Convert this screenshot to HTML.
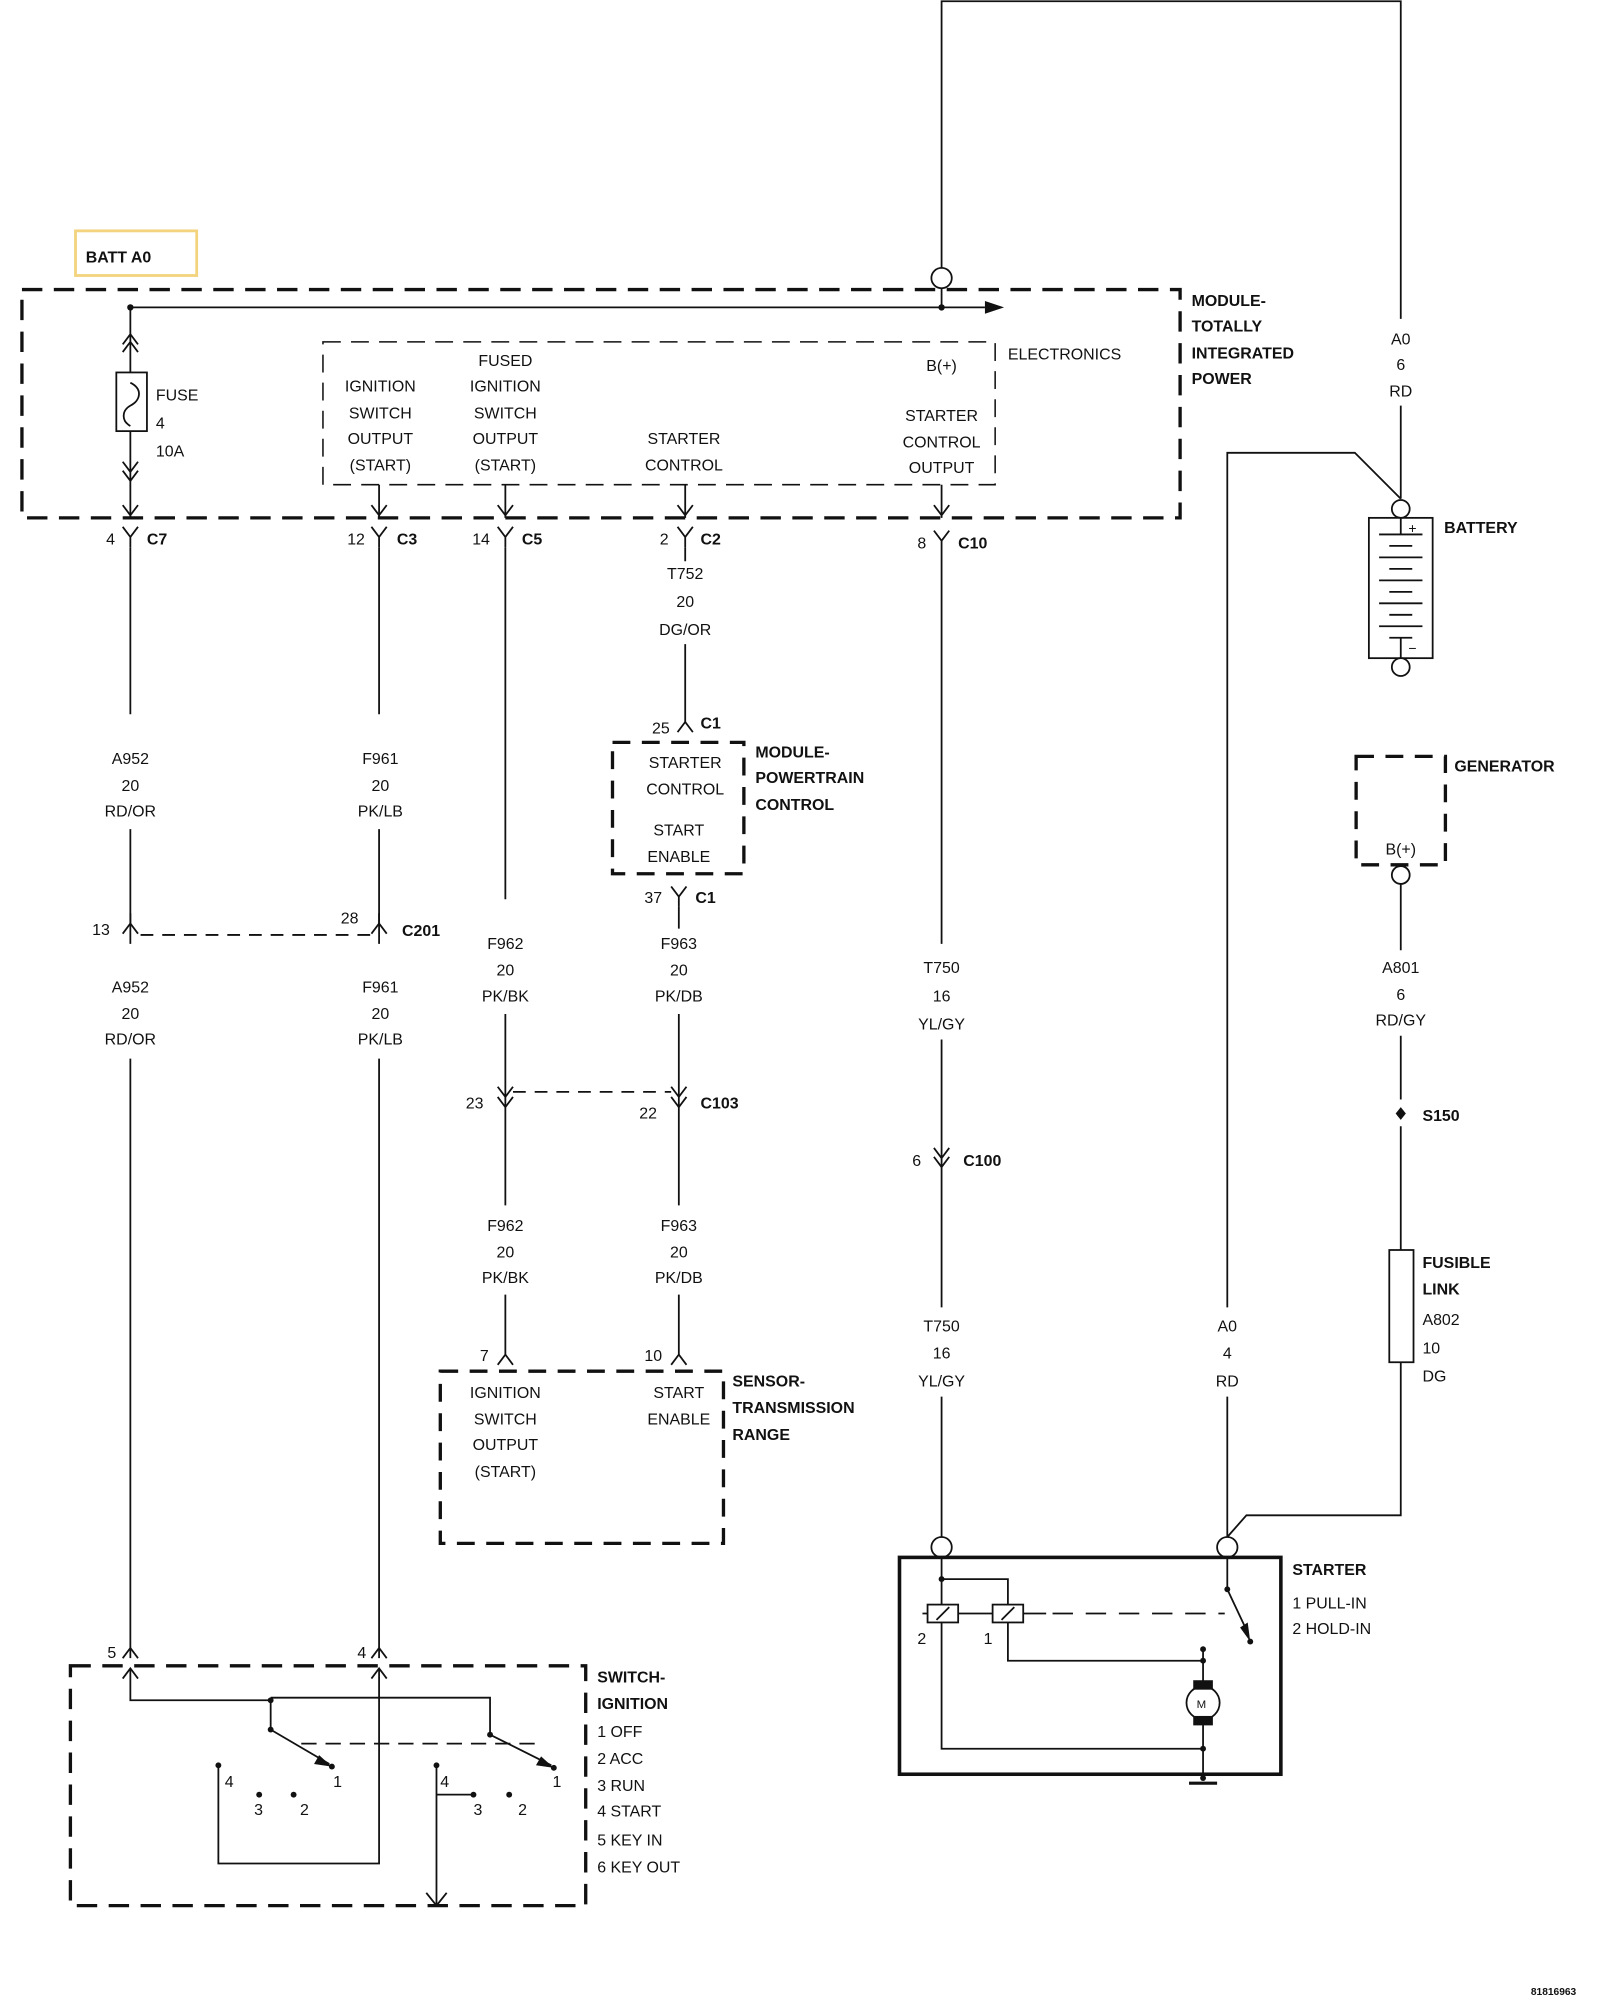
<!DOCTYPE html>
<html><head><meta charset="utf-8"><style>
html,body{margin:0;padding:0;background:#fff;width:1600px;height:2000px;overflow:hidden}
svg{display:block}
text{font-family:"Liberation Sans",Arial,sans-serif;font-size:12.5px;fill:#111}
.b{font-weight:bold;font-size:12.5px}
.c{text-anchor:middle}
</style></head><body>
<svg width="1600" height="2000" viewBox="0 0 1254 1568" xmlns="http://www.w3.org/2000/svg">
<defs>
<path id="yc" d="M-6,-8 L0,0 L6,-8 M0,0 V8" fill="none" stroke="#111" stroke-width="1.4"/>
<path id="ad" d="M-6,-8 L0,0 L6,-8" fill="none" stroke="#111" stroke-width="1.4"/>
<path id="au" d="M-6,8 L0,0 L6,8" fill="none" stroke="#111" stroke-width="1.4"/>
<path id="ru" d="M-6,8 L0,0 L6,8 M0,0 V-8" fill="none" stroke="#111" stroke-width="1.4"/>
</defs>
<g fill="none" stroke="#111" stroke-width="1.4">
<path d="M738,210 V1 H1098 V250 M1098,318 V391"/>
<circle cx="738" cy="218" r="8" fill="#fff"/>
<path d="M738,226 V241"/>
<rect x="17" y="227" width="908" height="179" stroke-width="2.6" stroke-dasharray="16 9"/>
<path d="M102,241 H772"/>
<rect x="253" y="268" width="527" height="112" stroke-width="1.2" stroke-dasharray="14 8"/>
<path d="M102,241 V292 M102,338 V406"/>
<rect x="91" y="292" width="24" height="46"/>
<path d="M102,300 C112,305 110,314 102,318 C95,322 95,330 102,334"/>
<use href="#au" x="102" y="262"/><use href="#au" x="102" y="268"/>
<use href="#ad" x="102" y="370"/><use href="#ad" x="102" y="377"/>
<use href="#ad" x="102" y="404"/>
<path d="M297,380 V406 M396,380 V406 M537,380 V406 M738,380 V406"/>
<use href="#ad" x="297" y="404"/><use href="#ad" x="396" y="404"/><use href="#ad" x="537" y="404"/><use href="#ad" x="738" y="404"/>
<use href="#yc" x="102" y="421"/><use href="#yc" x="297" y="421"/><use href="#yc" x="396" y="421"/><use href="#yc" x="537" y="421"/><use href="#yc" x="738" y="424"/>
<path d="M102,429 V560 M102,650 V740 M102,830 V1300"/>
<use href="#ru" x="102" y="724"/>
<path d="M297,429 V560 M297,650 V740 M297,830 V1300"/>
<use href="#ru" x="297" y="724"/>
<path d="M110,733 H290" stroke-dasharray="10 7"/>
<path d="M396,429 V705 M396,795 V945 M396,1015 V1062"/>
<use href="#ad" x="396" y="860"/><use href="#ad" x="396" y="868"/>
<path d="M402,856 H526" stroke-dasharray="10 7"/>
<path d="M537,429 V440 M537,505 V566"/>
<use href="#au" x="537" y="566"/>
<rect x="480" y="582" width="103" height="103" stroke-width="2.6" stroke-dasharray="14 9"/>
<use href="#yc" x="532" y="703"/>
<path d="M532,711 V728 M532,795 V945 M532,1015 V1062"/>
<use href="#ad" x="532" y="860"/><use href="#ad" x="532" y="868"/>
<use href="#au" x="396" y="1062"/><use href="#au" x="532" y="1062"/>
<rect x="345" y="1075" width="222" height="135" stroke-width="2.6" stroke-dasharray="14 9"/>
<path d="M738,432 V740 M738,815 V1025 M738,1095 V1205"/>
<use href="#ad" x="738" y="908"/><use href="#ad" x="738" y="915"/>
<circle cx="738" cy="1213" r="8" fill="#fff"/>
<path d="M962,1025 V355 H1062 L1098,391 M962,1095 V1205 M962,1205 L977,1188 H1098 V1068"/>
<circle cx="962" cy="1213" r="8" fill="#fff"/>
<circle cx="1098" cy="399" r="7" fill="#fff"/>
<rect x="1073" y="406" width="50" height="110"/>
<path d="M1098,406 V419 M1081,419 H1115 M1089,428 H1107 M1081,437 H1115 M1089,446 H1107 M1081,455 H1115 M1089,464 H1107 M1081,473 H1115 M1089,482 H1107 M1081,491 H1115 M1089,500 H1107 M1098,500 V516"/>
<circle cx="1098" cy="523" r="7" fill="#fff"/>
<rect x="1063" y="593" width="70" height="85" stroke-width="2.6" stroke-dasharray="14 9"/>
<circle cx="1098" cy="686" r="7" fill="#fff"/>
<path d="M1098,693 V745 M1098,812 V862 M1098,883 V980"/>
<rect x="1089" y="980" width="19" height="88"/>
<rect x="705" y="1221" width="299" height="170" stroke-width="2.8"/>
<path d="M738,1221 V1371 H943 M738,1238 H790 V1258 M790,1272 V1302 H943 M723,1265 H780 M801,1265 H820"/>
<path d="M825,1265 H960" stroke-dasharray="16 10"/>
<rect x="727" y="1258" width="24" height="14" fill="#fff"/>
<rect x="778" y="1258" width="24" height="14" fill="#fff"/>
<path d="M734,1270 L744,1260 M785,1270 L795,1260"/>
<path d="M962,1221 V1246 L978,1280 M943,1293 V1320 M943,1350 V1394"/>
<circle cx="943" cy="1335" r="13"/>
<rect x="936" y="1318" width="14" height="6" fill="#111"/>
<rect x="936" y="1346" width="14" height="6" fill="#111"/>
<path d="M932,1398 H954" stroke-width="2.5"/>
<rect x="55" y="1306" width="404" height="188" stroke-width="2.6" stroke-dasharray="16 9"/>
<use href="#au" x="102" y="1292"/><use href="#au" x="297" y="1292"/>
<use href="#au" x="102" y="1308"/><use href="#au" x="297" y="1308"/>
<path d="M102,1308 V1333 H212 V1356 M212,1331 H384 V1360 M297,1308 V1461 H171 V1384"/>
<path d="M212,1356 L258,1383 M384,1360 L432,1384"/>
<path d="M236,1367 H420" stroke-dasharray="12 7"/>
<path d="M342,1384 V1494 M342,1407 H371"/>
<path d="M334,1484 L342,1494 L350,1484"/>
</g>
<g fill="#111">
<circle cx="102" cy="241" r="2.5"/><circle cx="738" cy="241" r="2.5"/>
<path d="M772,236 L787,241 L772,246 Z"/>
<path d="M1098,868 l4,5 -4,5 -4,-5z"/>
<circle cx="738" cy="1238" r="2.3"/><circle cx="962" cy="1246" r="2.3"/><circle cx="980" cy="1287" r="2.3"/>
<path d="M972,1276 L980,1287 L978,1272 Z"/>
<circle cx="943" cy="1293" r="2.3"/><circle cx="943" cy="1302" r="2.3"/><circle cx="943" cy="1371" r="2.3"/><circle cx="943" cy="1394" r="2.3"/>
<circle cx="212" cy="1333" r="2.3"/><circle cx="212" cy="1356" r="2.3"/><circle cx="384" cy="1360" r="2.3"/>
<path d="M250,1376 L260,1385 L246,1383 Z"/><path d="M424,1377 L434,1386 L420,1384 Z"/>
<circle cx="260" cy="1385" r="2.3"/><circle cx="434" cy="1386" r="2.3"/>
<circle cx="171" cy="1384" r="2.3"/><circle cx="203" cy="1407" r="2.3"/><circle cx="230" cy="1407" r="2.3"/>
<circle cx="342" cy="1384" r="2.3"/><circle cx="371" cy="1407" r="2.3"/><circle cx="399" cy="1407" r="2.3"/>
</g>
<rect x="59" y="181" width="95" height="35" fill="none" stroke="#f3d37d" stroke-width="2.2"/>
<text x="67" y="206" class="b">BATT A0</text>
<text x="934" y="240" class="b">MODULE-</text><text x="934" y="260" class="b">TOTALLY</text><text x="934" y="281" class="b">INTEGRATED</text><text x="934" y="301" class="b">POWER</text>
<text x="790" y="282">ELECTRONICS</text>
<text x="738" y="291" class="c">B(+)</text>
<text x="122" y="314">FUSE</text><text x="122" y="336">4</text><text x="122" y="358">10A</text>
<text class="c" x="298" y="307">IGNITION</text><text class="c" x="298" y="328">SWITCH</text><text class="c" x="298" y="348">OUTPUT</text><text class="c" x="298" y="369">(START)</text>
<text class="c" x="396" y="287">FUSED</text><text class="c" x="396" y="307">IGNITION</text><text class="c" x="396" y="328">SWITCH</text><text class="c" x="396" y="348">OUTPUT</text><text class="c" x="396" y="369">(START)</text>
<text class="c" x="536" y="348">STARTER</text><text class="c" x="536" y="369">CONTROL</text>
<text class="c" x="738" y="330">STARTER</text><text class="c" x="738" y="351">CONTROL</text><text class="c" x="738" y="371">OUTPUT</text>
<text x="83" y="427">4</text><text x="115" y="427" class="b">C7</text>
<text x="272" y="427">12</text><text x="311" y="427" class="b">C3</text>
<text x="370" y="427">14</text><text x="409" y="427" class="b">C5</text>
<text x="517" y="427">2</text><text x="549" y="427" class="b">C2</text>
<text x="719" y="430">8</text><text x="751" y="430" class="b">C10</text>
<text class="c" x="537" y="454">T752</text><text class="c" x="537" y="476">20</text><text class="c" x="537" y="498">DG/OR</text>
<text x="511" y="575">25</text><text x="549" y="571" class="b">C1</text>
<text class="c" x="537" y="602">STARTER</text><text class="c" x="537" y="623">CONTROL</text><text class="c" x="532" y="655">START</text><text class="c" x="532" y="676">ENABLE</text>
<text x="592" y="594" class="b">MODULE-</text><text x="592" y="614" class="b">POWERTRAIN</text><text x="592" y="635" class="b">CONTROL</text>
<text x="505" y="708">37</text><text x="545" y="708" class="b">C1</text>
<text class="c" x="102" y="599">A952</text><text class="c" x="102" y="620">20</text><text class="c" x="102" y="640">RD/OR</text>
<text class="c" x="298" y="599">F961</text><text class="c" x="298" y="620">20</text><text class="c" x="298" y="640">PK/LB</text>
<text x="72" y="733">13</text><text x="267" y="724">28</text><text x="315" y="734" class="b">C201</text>
<text class="c" x="102" y="778">A952</text><text class="c" x="102" y="799">20</text><text class="c" x="102" y="819">RD/OR</text>
<text class="c" x="298" y="778">F961</text><text class="c" x="298" y="799">20</text><text class="c" x="298" y="819">PK/LB</text>
<text class="c" x="396" y="744">F962</text><text class="c" x="396" y="765">20</text><text class="c" x="396" y="785">PK/BK</text>
<text class="c" x="532" y="744">F963</text><text class="c" x="532" y="765">20</text><text class="c" x="532" y="785">PK/DB</text>
<text x="365" y="869">23</text><text x="501" y="877">22</text><text x="549" y="869" class="b">C103</text>
<text class="c" x="396" y="965">F962</text><text class="c" x="396" y="986">20</text><text class="c" x="396" y="1006">PK/BK</text>
<text class="c" x="532" y="965">F963</text><text class="c" x="532" y="986">20</text><text class="c" x="532" y="1006">PK/DB</text>
<text x="376" y="1067">7</text><text x="505" y="1067">10</text>
<text class="c" x="396" y="1096">IGNITION</text><text class="c" x="396" y="1117">SWITCH</text><text class="c" x="396" y="1137">OUTPUT</text><text class="c" x="396" y="1158">(START)</text>
<text class="c" x="532" y="1096">START</text><text class="c" x="532" y="1117">ENABLE</text>
<text x="574" y="1087" class="b">SENSOR-</text><text x="574" y="1108" class="b">TRANSMISSION</text><text x="574" y="1129" class="b">RANGE</text>
<text class="c" x="738" y="763">T750</text><text class="c" x="738" y="785">16</text><text class="c" x="738" y="807">YL/GY</text>
<text x="715" y="914">6</text><text x="755" y="914" class="b">C100</text>
<text class="c" x="738" y="1044">T750</text><text class="c" x="738" y="1065">16</text><text class="c" x="738" y="1087">YL/GY</text>
<text class="c" x="962" y="1044">A0</text><text class="c" x="962" y="1065">4</text><text class="c" x="962" y="1087">RD</text>
<text class="c" x="1098" y="270">A0</text><text class="c" x="1098" y="290">6</text><text class="c" x="1098" y="311">RD</text>
<text x="1132" y="418" class="b">BATTERY</text>
<text x="1104" y="418" style="font-size:11px">+</text><text x="1104" y="512" style="font-size:11px">−</text>
<text x="1140" y="605" class="b">GENERATOR</text>
<text class="c" x="1098" y="670">B(+)</text>
<text class="c" x="1098" y="763">A801</text><text class="c" x="1098" y="784">6</text><text class="c" x="1098" y="804">RD/GY</text>
<text x="1115" y="879" class="b">S150</text>
<text x="1115" y="994" class="b">FUSIBLE</text><text x="1115" y="1015" class="b">LINK</text><text x="1115" y="1039">A802</text><text x="1115" y="1061">10</text><text x="1115" y="1083">DG</text>
<text x="1013" y="1235" class="b">STARTER</text><text x="1013" y="1261">1 PULL-IN</text><text x="1013" y="1281">2 HOLD-IN</text>
<text x="719" y="1289">2</text><text x="771" y="1289">1</text>
<text x="938" y="1339" style="font-size:9px">M</text>
<text x="84" y="1300">5</text><text x="280" y="1300">4</text>
<text x="468" y="1319" class="b">SWITCH-</text><text x="468" y="1340" class="b">IGNITION</text>
<text x="468" y="1362">1 OFF</text><text x="468" y="1383">2 ACC</text><text x="468" y="1404">3 RUN</text><text x="468" y="1424">4 START</text><text x="468" y="1447">5 KEY IN</text><text x="468" y="1468">6 KEY OUT</text>
<text x="176" y="1401">4</text><text x="261" y="1401">1</text><text x="199" y="1423">3</text><text x="235" y="1423">2</text>
<text x="345" y="1401">4</text><text x="433" y="1401">1</text><text x="371" y="1423">3</text><text x="406" y="1423">2</text>
<text x="1200" y="1564" style="font-size:8px;font-weight:bold">81816963</text>
</svg>
</body></html>
